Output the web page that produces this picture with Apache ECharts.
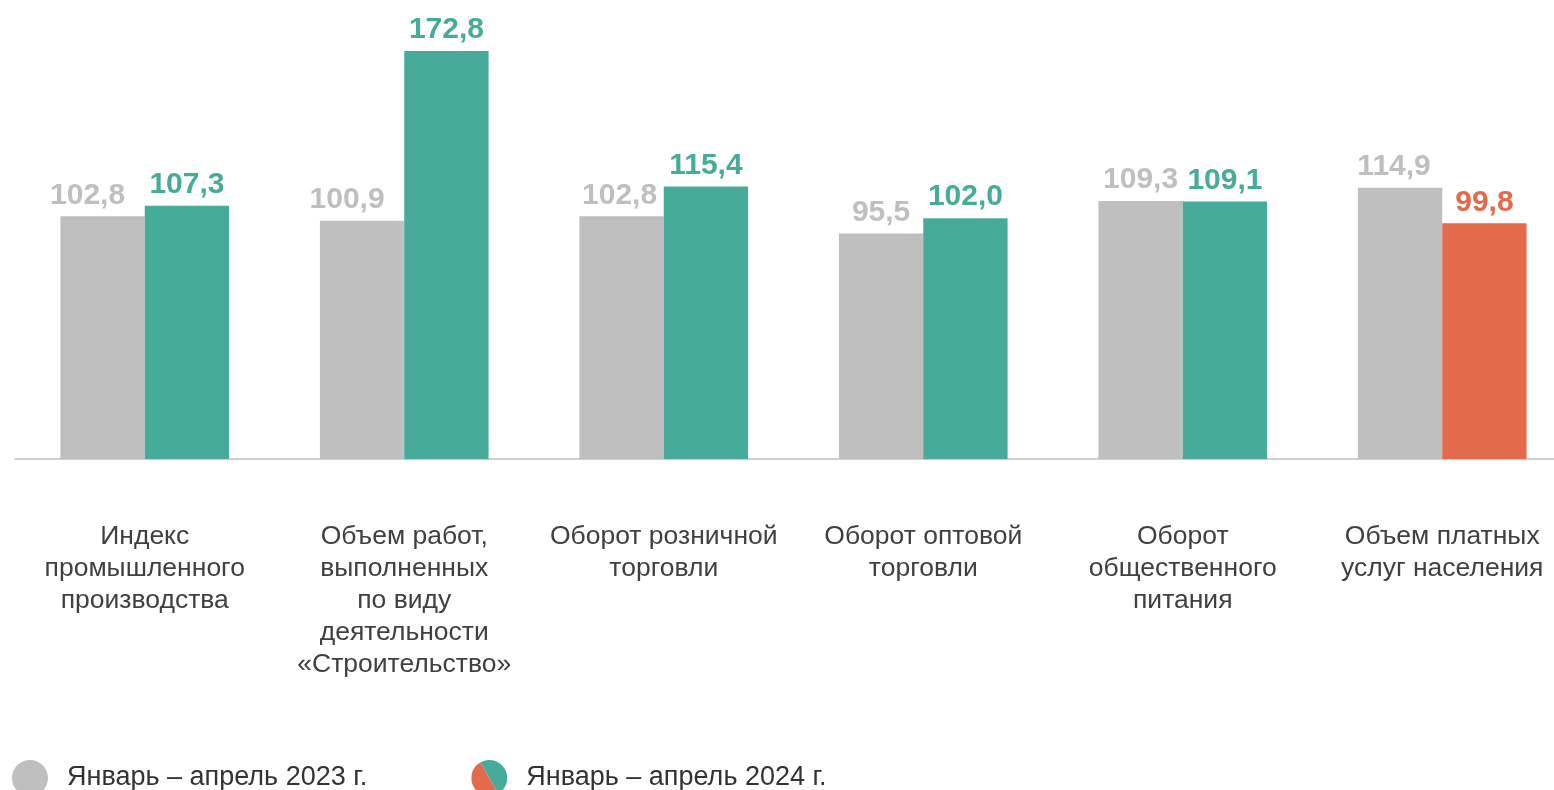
<!DOCTYPE html>
<html>
<head>
<meta charset="utf-8">
<script src="https://cdn.jsdelivr.net/npm/echarts@6/dist/echarts.min.js"></script>
<style>
    html, body { margin: 0; padding: 0; background: #fff; overflow: hidden; }
    #chart { width: 1572px; height: 790px; }
</style>
</head>
<body>
<div id="chart"></div>
<script>
    // данные
    var categories = [
        'Индекс\nпромышленного\nпроизводства',
        'Объем работ,\nвыполненных\nпо виду\nдеятельности\n«Строительство»',
        'Оборот розничной\nторговли',
        'Оборот оптовой\nторговли',
        'Оборот\nобщественного\nпитания',
        'Объем платных\nуслуг населения'
    ]
    var values2023 = [102.8, 100.9, 102.8, 95.5, 109.3, 114.9]
    var values2024 = [107.3, 172.8, 115.4, 102.0, 109.1, 99.8]
    var seriesNames = ['Январь – апрель 2023 г.', 'Январь – апрель 2024 г.']

    // цвета
    var grey = '#bfbfbf'
    var green = '#46ab98'
    var red = '#e36a4a'
    var font = '"Liberation Sans"'
    var greyShift = [-15, -15, -2, 0, 0, -6]

    var fmt = function (p) { return p.value.toFixed(1).replace('.', ',') }

    var splitIcon = 'image://data:image/svg+xml;charset=utf-8,' + encodeURIComponent(
        '<svg xmlns="http://www.w3.org/2000/svg" width="36" height="36" viewBox="0 0 36 36">' +
        '<path d="M9,2.4 A18,18 0 0 1 27,33.6 Z" fill="' + green + '"/>' +
        '<path d="M27,33.6 A18,18 0 0 1 9,2.4 Z" fill="' + red + '"/>' +
        '</svg>')

    var data2023 = values2023.map(function (v, i) {
        return { value: v, label: { offset: [greyShift[i], 0] } }
    })
    var data2024 = values2024.map(function (v) {
        var c = v < 100 ? red : green
        return { value: v, itemStyle: { color: c }, label: { color: c } }
    })

    var myChart = echarts.init(document.getElementById('chart'))
    myChart.setOption({
        animation: false,
        textStyle: { fontFamily: font },
        grid: { left: 15, right: 0, top: 34, bottom: 331, containLabel: false },
        legend: {
            left: 7,
            top: 755,
            itemWidth: 36,
            itemHeight: 36,
            itemGap: 104,
            textStyle: { fontSize: 27, color: '#333', fontFamily: font, padding: [0, 0, 0, 14] },
            data: [
                { name: seriesNames[0], icon: 'circle' },
                { name: seriesNames[1], icon: splitIcon }
            ]
        },
        xAxis: {
            type: 'category',
            data: categories,
            axisLine: { lineStyle: { color: '#bfbfbf', width: 1.5 } },
            axisTick: { show: false },
            axisLabel: {
                interval: 0,
                margin: 62,
                fontSize: 26.5,
                lineHeight: 32,
                color: '#404040',
                fontFamily: font
            }
        },
        yAxis: {
            type: 'value',
            min: 0,
            max: 180,
            show: false,
            splitLine: { show: false }
        },
        series: [{
            name: seriesNames[0],
            type: 'bar',
            barGap: '0%',
            barCategoryGap: '35%',
            itemStyle: { color: grey },
            label: {
                show: true,
                position: 'top',
                distance: 6,
                formatter: fmt,
                fontSize: 30,
                fontWeight: 'bold',
                color: grey,
                fontFamily: font
            },
            data: data2023
        }, {
            name: seriesNames[1],
            type: 'bar',
            itemStyle: { color: green },
            label: {
                show: true,
                position: 'top',
                distance: 6,
                formatter: fmt,
                fontSize: 30,
                fontWeight: 'bold',
                color: green,
                fontFamily: font
            },
            data: data2024
        }]
    })
</script>
</body>
</html>
